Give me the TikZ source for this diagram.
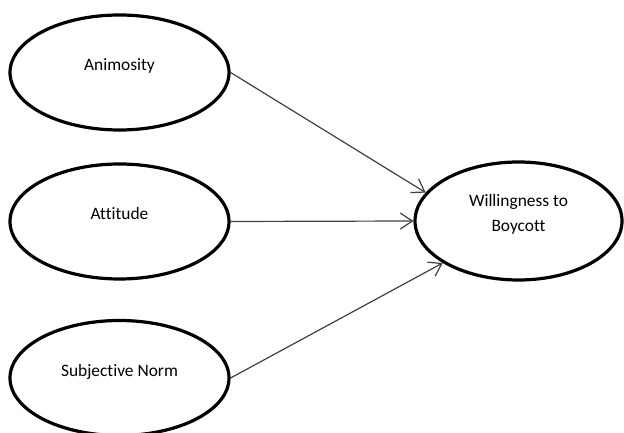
\documentclass[tikz,border=0pt]{standalone}
\usepackage{fontspec}
\setmainfont{Carlito}[Ligatures=NoCommon]
\usetikzlibrary{positioning,arrows.meta,shapes.geometric}
\tikzset{latent/.style={ellipse, draw=black, line width=1.6pt, fill=white, inner sep=0pt, text depth=8pt, align=center, font=\fontsize{8.7}{12.5}\selectfont}}
\tikzset{lat1/.style={latent, minimum width=109.5pt, minimum height=57.5pt}}
\tikzset{lat2/.style={latent, minimum width=103.5pt, minimum height=59pt}}
\tikzset{arr/.style={draw=black!75, line width=0.6pt, -{Straight Barb[length=6pt,width=8pt]}}}

\begin{document}
\begin{tikzpicture}[x=0.5pt, y=0.5pt]
		\useasboundingbox (0,0) rectangle (624,432);
		\node[lat1] (anim) at (119.5,359.5) {Animosity};
		\node[lat1] (att) at (119.5,210.5) {Attitude};
		\node[lat1] (subj) at (119.5,54) {Subjective Norm};
		\node[lat2] (will) at (518.5,211) {Willingness to\\Boycott};
%
		\draw[arr] (anim.east) -- (will.163);
		\draw[arr] (att.east) -- (will.west);
		\draw[arr] (subj.east) -- (will.209);
	\end{tikzpicture}
\end{document}
